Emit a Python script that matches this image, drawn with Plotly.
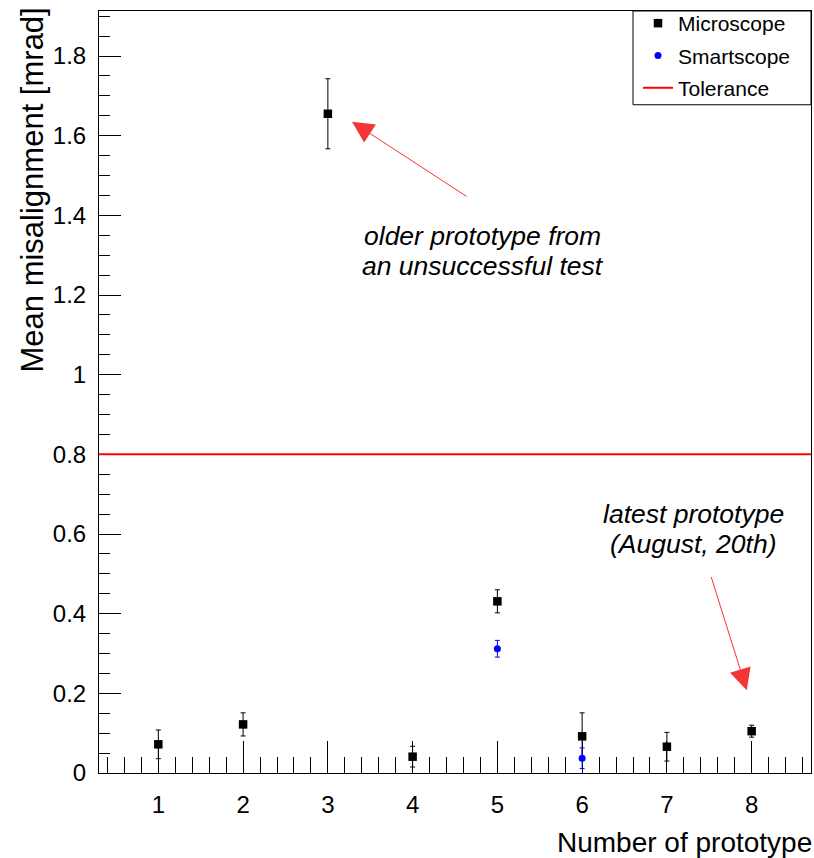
import plotly.graph_objects as go

# ---- data ----
PROTOTYPES = [1, 2, 3, 4, 5, 6, 7, 8]
MICRO_X = [1, 2, 3, 4, 5, 6, 7, 8]
MICRO_Y = [0.072, 0.122, 1.655, 0.041, 0.431, 0.092, 0.066, 0.105]
MICRO_ERR = [0.036, 0.029, 0.088, 0.026, 0.029, 0.059, 0.036, 0.015]
SMART_X = [5, 6]
SMART_Y = [0.312, 0.037]
SMART_ERR = [0.021, 0.026]
TOLERANCE = 0.8
X_RANGE = [0.3, 8.7]
Y_RANGE = [0.0, 1.913]

FONT = "Liberation Sans, Arial, Helvetica, sans-serif"
RED = "#ff0000"
ARROW_RED = "#f53535"
PAD = "\u00a0\u00a0"

fig = go.Figure()

fig.add_trace(go.Scatter(
    x=MICRO_X, y=MICRO_Y, mode="markers", name="Microscope" + PAD,
    legendgroup="a",
    marker=dict(symbol="square", size=8.5, color="black"),
    error_y=dict(type="data", array=MICRO_ERR, color="black", thickness=1, width=2.5),
))
fig.add_trace(go.Scatter(
    x=SMART_X, y=SMART_Y, mode="markers", name="Smartscope" + PAD,
    legendgroup="b",
    marker=dict(symbol="circle", size=7, color="#0000ff"),
    error_y=dict(type="data", array=SMART_ERR, color="#0000ff", thickness=1, width=2.5),
))
fig.add_trace(go.Scatter(
    x=X_RANGE, y=[TOLERANCE, TOLERANCE], mode="lines", name="Tolerance" + PAD,
    legendgroup="c",
    line=dict(color=RED, width=2),
))

annots = []
# axis titles
annots.append(dict(text="Mean misalignment [mrad]", xref="paper", yref="paper",
                   x=(33 - 99) / 712, y=(773 - 189) / 764, xanchor="center", yanchor="middle",
                   textangle=-90, showarrow=False, font=dict(family=FONT, size=31, color="black")))
annots.append(dict(text="Number of prototype", xref="paper", yref="paper",
                   x=1.004, y=(773 - 843) / 764, xanchor="right", yanchor="middle",
                   showarrow=False, font=dict(family=FONT, size=28, color="black")))
# text notes
ifont = dict(family=FONT, size=26.5, color="black", style="italic")
annots.append(dict(text="older prototype from", x=4.83, y=1.347, xref="x", yref="y",
                   showarrow=False, font=ifont, xanchor="center", yanchor="middle"))
annots.append(dict(text="an unsuccessful test", x=4.83, y=1.272, xref="x", yref="y",
                   showarrow=False, font=ifont, xanchor="center", yanchor="middle"))
annots.append(dict(text="latest prototype", x=7.308, y=0.651, xref="x", yref="y",
                   showarrow=False, font=ifont, xanchor="center", yanchor="middle"))
annots.append(dict(text="(August, 20th)", x=7.308, y=0.576, xref="x", yref="y",
                   showarrow=False, font=ifont, xanchor="center", yanchor="middle"))
# arrows
annots.append(dict(text="", x=3.285, y=1.635, ax=4.654, ay=1.445, xref="x", yref="y",
                   axref="x", ayref="y", showarrow=True, arrowhead=2, arrowsize=4.3,
                   arrowwidth=1, arrowcolor=ARROW_RED, standoff=0))
annots.append(dict(text="", x=7.942, y=0.208, ax=7.517, ay=0.496, xref="x", yref="y",
                   axref="x", ayref="y", showarrow=True, arrowhead=2, arrowsize=4.3,
                   arrowwidth=1, arrowcolor=ARROW_RED, standoff=0))

# legend frame
shapes = [dict(type="rect", xref="paper", yref="paper",
               x0=(633 - 99) / 712, x1=1.0, y0=(773 - 103) / 764, y1=1.0,
               line=dict(color="black", width=1), fillcolor="rgba(0,0,0,0)", layer="above")]

fig.update_layout(
    width=814, height=858,
    margin=dict(l=99, r=3, t=9, b=85, pad=0),
    paper_bgcolor="white", plot_bgcolor="white",
    font=dict(family=FONT, size=24, color="black"),
    showlegend=True,
    legend=dict(x=1 - 4 / 712, y=1 + 8 / 764, xanchor="right", yanchor="top",
                borderwidth=0, bgcolor="rgba(0,0,0,0)", itemwidth=30,
                font=dict(family=FONT, size=21, color="black"),
                tracegroupgap=2, traceorder="grouped"),
    annotations=annots,
    shapes=shapes,
)
fig.update_xaxes(
    range=X_RANGE, showgrid=False, zeroline=False,
    showline=True, linecolor="black", linewidth=1, mirror=True,
    tickmode="array", tickvals=PROTOTYPES, ticktext=[str(p) for p in PROTOTYPES],
    ticks="inside", ticklen=32, tickwidth=1, tickcolor="black",
    ticklabelstandoff=10,
    minor=dict(dtick=0.2, tick0=0, ticks="inside", ticklen=16, tickwidth=1, tickcolor="black"),
    tickfont=dict(family=FONT, size=24, color="black"),
    layer="below traces",
)
fig.update_yaxes(
    range=Y_RANGE, showgrid=False, zeroline=False,
    showline=True, linecolor="black", linewidth=1, mirror=True,
    dtick=0.2, tick0=0,
    ticks="inside", ticklen=22, tickwidth=1, tickcolor="black",
    ticklabelstandoff=7,
    minor=dict(dtick=0.05, tick0=0, ticks="inside", ticklen=11, tickwidth=1, tickcolor="black"),
    tickfont=dict(family=FONT, size=24, color="black"),
    layer="below traces",
)

fig.write_html("out.html")
